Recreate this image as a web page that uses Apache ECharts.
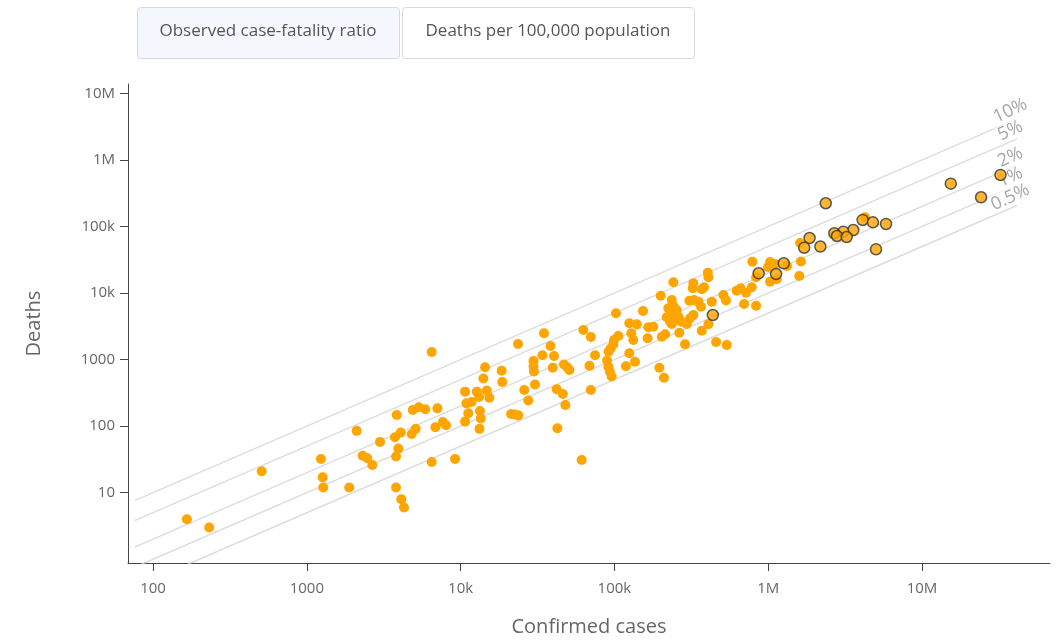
<!DOCTYPE html>
<html><head><meta charset="utf-8">
<script src="https://cdn.jsdelivr.net/npm/echarts@6/dist/echarts.min.js"></script>
<style>html,body{margin:0;padding:0;background:#fff}#c{width:1059px;height:642px}</style>
</head><body><div id="c"></div>
<script>
// Countries (not highlighted): confirmed cases and deaths
const otherCases = [166,232,509,1236,1268,1279,1888,2109,2307,2472,2667,2992,3741,3843,3937,3802,3802,4083,4114,4285,
  4808,5105,4887,5345,5893,6486,6486,6855,7063,7656,8040,9200,10690,12740,14790,10910,11800,13180,15380,11220,
  13360,13520,10690,13280,14420,14060,18490,18660,23610,25940,27540,30460,21280,22590,23730,29790,29790,29990,34830,34040,
  38460,40480,39710,42170,46210,47990,46990,49550,50910,42560,61240,62810,70310,74820,68870,70310,89540,91300,93560,95960,
  91580,94630,98390,99350,102400,106000,125000,128800,132700,118900,139700,166100,178900,164400,153500,136100,125000,195900,209900,203200,
  213400,200000,241700,236000,241700,224000,254100,218800,241700,260600,230100,247800,274200,295300,310400,326000,236000,264200,287700,307000,
  329400,351600,365700,326000,322800,369800,382800,404600,408300,429700,408300,369800,458300,537500,510600,531700,623700,662200,717800,781500,
  696700,833700,788800,1028000,998000,1107000,1324000,833700,1028000,1135000,1611000,1633000,1592000,4256000];
const otherDeaths = [4,3,21,32,17,12,12,85,36,33,26,58,68,147,46,35,12,80,8,6,
  76,91,175,192,179,1300,29,96,185,115,103,32,330,330,344,220,231,274,267,156,
  169,130,117,91,766,520,681,460,1714,349,243,423,152,150,145,952,787,662,2483,1164,
  1600,1133,755,359,304,208,843,760,698,93,31,2786,2188,1164,809,349,968,782,658,557,
  1315,1479,1687,1972,4966,2265,3508,2483,1972,796,3388,3055,3118,2089,5373,929,1245,755,534,2208,
  2399,9120,14520,7870,6383,5900,5560,4325,4677,4416,3715,3938,3715,3428,4178,4677,3428,2535,1698,7674,
  7870,7413,6237,14030,11780,11380,12190,20230,17260,7413,3388,2716,1836,1656,9358,7731,10840,11780,10120,12190,
  6839,6457,29580,29310,24600,27350,25530,17260,14830,16100,56490,29790,18030,137400];
// Highlighted countries (outlined markers)
const topCases = [2366000,15380000,24210000,32360000,4112000,4797000,5834000,3573000,3077000,2690000,
  2800000,3236000,1858000,1714000,2183000,5020000,1262000,1125000,867000,436500];
const topDeaths = [223400,439500,274800,594300,125300,115600,109100,88500,83550,79070,
  71980,69490,67140,47970,50000,45390,27990,19320,19820,4677];
// Case-fatality reference lines
const cfrRates = [0.1,0.05,0.02,0.01,0.005];
const cfrLabels = ['10%','5%','2%','1%','0.5%'];
const cfrLineCases = [76, 41400000];
const cfrLabelCases = 38900000;
// Axis ticks
const xTickValues = [100,1000,1e4,1e5,1e6,1e7];
const xTickLabels = ['100','1000','10k','100k','1M','10M'];
const yTickValues = [10,100,1000,1e4,1e5,1e6,1e7];
const yTickLabels = ['10','100','1000','10k','100k','1M','10M'];
const buttonLabels = ['Observed case-fatality ratio','Deaths per 100,000 population'];

const FONT = '"Open Sans", "DejaVu Sans", sans-serif';
function fmt(values, labels){
  return v => { const i = values.findIndex(t => Math.abs(Math.log10(t) - Math.log10(v)) < 1e-6); return i >= 0 ? labels[i] : ''; };
}
const zip = (a, b) => a.map((v, i) => [v, b[i]]);

const series = [];
cfrRates.forEach((r) => {
  series.push({
    type: 'line', silent: true, symbol: 'none', z: 1,
    data: cfrLineCases.map(c => [c, c * r]),
    lineStyle: { color: '#dcdcdc', width: 1.5 }
  });
});
series.push({
  type: 'scatter', silent: true, z: 2, symbolSize: 0,
  data: cfrRates.map((r, i) => ({ value: [cfrLabelCases, cfrLabelCases * r], name: cfrLabels[i] })),
  label: {
    show: true, position: 'inside', formatter: p => p.name, rotate: 25, offset: [2, -10],
    color: '#8e8e8e', fontSize: 18, fontFamily: FONT, backgroundColor: '#ffffff', padding: [0, 1]
  }
});
series.push({
  type: 'scatter', z: 3, symbolSize: 10,
  data: zip(otherCases, otherDeaths),
  itemStyle: { color: '#FFA500', opacity: 1 }
});
series.push({
  type: 'scatter', z: 4, symbolSize: 11,
  data: zip(topCases, topDeaths),
  itemStyle: { color: '#FFA500', borderColor: '#333333', borderWidth: 1.5 }
});

const axisCommon = {
  type: 'log', logBase: 10,
  axisLine: { show: true, lineStyle: { color: '#444', width: 1 } },
  splitLine: { show: false },
  nameTextStyle: { color: '#666', fontSize: 20, fontFamily: FONT },
};

const chart = echarts.init(document.getElementById('c'));
chart.setOption({
  animation: false,
  backgroundColor: '#fff',
  grid: { left: 128, right: 9, top: 84, bottom: 79, containLabel: false },
  xAxis: Object.assign({}, axisCommon, {
    min: Math.pow(10, 1.8375), max: Math.pow(10, 7.832),
    name: 'Confirmed cases', nameLocation: 'middle', nameGap: 54,
    axisTick: { show: true, length: 8, customValues: xTickValues, lineStyle: { color: '#444' } },
    axisLabel: { customValues: xTickValues, formatter: fmt(xTickValues, xTickLabels), color: '#666', fontSize: 15, fontFamily: FONT, margin: 18 }
  }),
  yAxis: Object.assign({}, axisCommon, {
    min: Math.pow(10, -0.0563), max: Math.pow(10, 7.141),
    name: 'Deaths', nameLocation: 'middle', nameGap: 84,
    axisTick: { show: true, length: 8, customValues: yTickValues, lineStyle: { color: '#444' } },
    axisLabel: { customValues: yTickValues, formatter: fmt(yTickValues, yTickLabels), color: '#666', fontSize: 15, fontFamily: FONT, margin: 13 }
  }),
  graphic: [
    { type: 'rect', left: 137, top: 7, shape: { width: 262, height: 51, r: 3 }, style: { fill: '#f4f8fe', stroke: '#d6d9de', lineWidth: 1 } },
    { type: 'text', x: 268, y: 31, style: { text: buttonLabels[0], fill: '#555', font: '17px ' + FONT, align: 'center', verticalAlign: 'middle' } },
    { type: 'rect', left: 402, top: 7, shape: { width: 292, height: 51, r: 3 }, style: { fill: '#ffffff', stroke: '#d6d9de', lineWidth: 1 } },
    { type: 'text', x: 548, y: 31, style: { text: buttonLabels[1], fill: '#555', font: '17px ' + FONT, align: 'center', verticalAlign: 'middle' } }
  ],
  series: series
});
</script></body></html>
